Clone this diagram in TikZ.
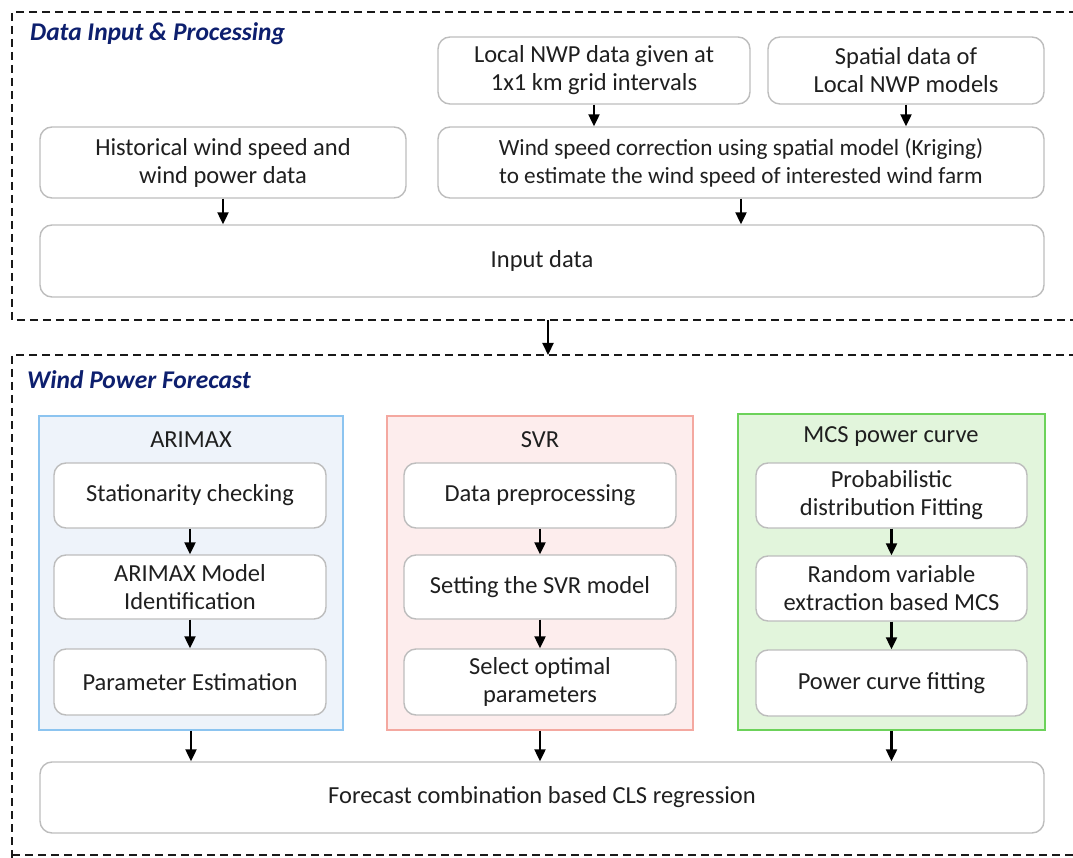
\documentclass[tikz,border=0pt]{standalone}
\usepackage{fontspec}
\setmainfont{Carlito}
\usetikzlibrary{arrows.meta,positioning}
\definecolor{boxgray}{HTML}{BDBDBD}
\definecolor{txt}{HTML}{1F1F1F}
\definecolor{navy}{HTML}{0D1F6E}
\definecolor{bluefill}{HTML}{EEF3FA}
\definecolor{blueline}{HTML}{8CC4F0}
\definecolor{redfill}{HTML}{FDEDED}
\definecolor{redline}{HTML}{F4A8A0}
\definecolor{greenfill}{HTML}{E2F5DC}
\definecolor{greenline}{HTML}{6CD25A}
\tikzset{
  x=1pt,y=-1pt,
  stepbox/.style={draw=boxgray,line width=1.4pt,rounded corners=12pt,fill=white,align=center,
    text=txt,font=\fontsize{24.5}{28}\selectfont,inner sep=0pt},
  grpbox/.style={line width=1.6pt,inner sep=0pt},
  arr/.style={-{Triangle[length=12pt,width=11pt]},line width=2.2pt,black},
  dashbox/.style={dash pattern=on 8pt off 5pt,line width=1.8pt,draw=black!90},
  sectitle/.style={font=\fontsize{25.5}{28}\selectfont\bfseries\itshape,text=navy,anchor=west,inner sep=0pt},
  grptitle/.style={font=\fontsize{24.5}{28}\selectfont,text=txt,inner sep=0pt}
}
\begin{document}
\begin{tikzpicture}
\useasboundingbox (0,0) rectangle (1073,858);
\clip (0,0) rectangle (1073,858);
% dashed section frames
\draw[dashbox] (1090,12) -- (12,12) -- (12,320) -- (1090,320);
\draw[dashbox] (1090,355) -- (12,355) -- (12,870);
\draw[dashbox] (12,855) -- (1090,855);
\node[sectitle] (t1) at (30,34) {Data Input \& Processing};
\node[sectitle] (t2) at (27,380) {Wind Power Forecast};

% top section boxes
\node[stepbox,minimum width=312pt,minimum height=67pt] (nwp) at (594,70.5) {Local NWP data given at\\1x1 km grid intervals};
\node[stepbox,minimum width=276pt,minimum height=67pt] (spat) at (906,70.5) {Spatial data of\\Local NWP models};
\node[stepbox,minimum width=366pt,minimum height=71pt] (hist) at (223,162.5) {Historical wind speed and\\wind power data};
\node[stepbox,minimum width=606pt,minimum height=71pt,font=\fontsize{23.2}{28}\selectfont] (corr) at (741,162.5) {Wind speed correction using spatial model (Kriging)\\to estimate the wind speed of interested wind farm};
\node[stepbox,minimum width=1004pt,minimum height=72pt] (inp) at (542,261) {Input data};

\draw[arr] (nwp.south) -- (nwp.south |- corr.north);
\draw[arr] (spat.south) -- (spat.south |- corr.north);
\draw[arr] (hist.south) -- (hist.south |- inp.north);
\draw[arr] (corr.south) -- (corr.south |- inp.north);
\coordinate (s1) at (548,320);
\coordinate (s2) at (548,355);
\draw[arr] (s1) -- (s2);

% group frames
\node[grpbox,draw=blueline,fill=bluefill,minimum width=304pt,minimum height=314pt] (ga) at (191,573) {};
\node[grpbox,draw=redline,fill=redfill,minimum width=306pt,minimum height=314pt] (gs) at (540,573) {};
\node[grpbox,draw=greenline,fill=greenfill,minimum width=307pt,minimum height=316pt] (gm) at (891.5,572) {};
\node[grptitle] (ta) at (191,440) {ARIMAX};
\node[grptitle] (ts) at (540,440) {SVR};
\node[grptitle] (tm) at (891,437) {MCS power curve};

% ARIMAX steps
\node[stepbox,minimum width=272pt,minimum height=65pt] (a1) at (190,495.5) {Stationarity checking};
\node[stepbox,minimum width=272pt,minimum height=64pt] (a2) at (190,587) {ARIMAX Model\\Identification};
\node[stepbox,minimum width=272pt,minimum height=66pt] (a3) at (190,682) {Parameter Estimation};
% SVR steps
\node[stepbox,minimum width=272pt,minimum height=65pt] (b1) at (540,495.5) {Data preprocessing};
\node[stepbox,minimum width=272pt,minimum height=64pt] (b2) at (540,587) {Setting the SVR model};
\node[stepbox,minimum width=272pt,minimum height=66pt] (b3) at (540,682) {Select optimal\\parameters};
% MCS steps
\node[stepbox,minimum width=271pt,minimum height=65pt] (c1) at (891.5,495.5) {Probabilistic\\distribution Fitting};
\node[stepbox,minimum width=271pt,minimum height=65pt] (c2) at (891.5,588.5) {Random variable\\extraction based MCS};
\node[stepbox,minimum width=271pt,minimum height=66pt] (c3) at (891.5,683) {Power curve fitting};

\node[stepbox,minimum width=1004pt,minimum height=71pt] (fc) at (542,797.5) {Forecast combination based CLS regression};

\draw[arr] (a1) -- (a2);
\draw[arr] (a2) -- (a3);
\draw[arr] (b1) -- (b2);
\draw[arr] (b2) -- (b3);
\draw[arr] (c1) -- (c2);
\draw[arr] (c2) -- (c3);
\draw[arr] (ga.south) -- (ga.south |- fc.north);
\draw[arr] (gs.south) -- (gs.south |- fc.north);
\draw[arr] (gm.south) -- (gm.south |- fc.north);
\end{tikzpicture}
\end{document}
